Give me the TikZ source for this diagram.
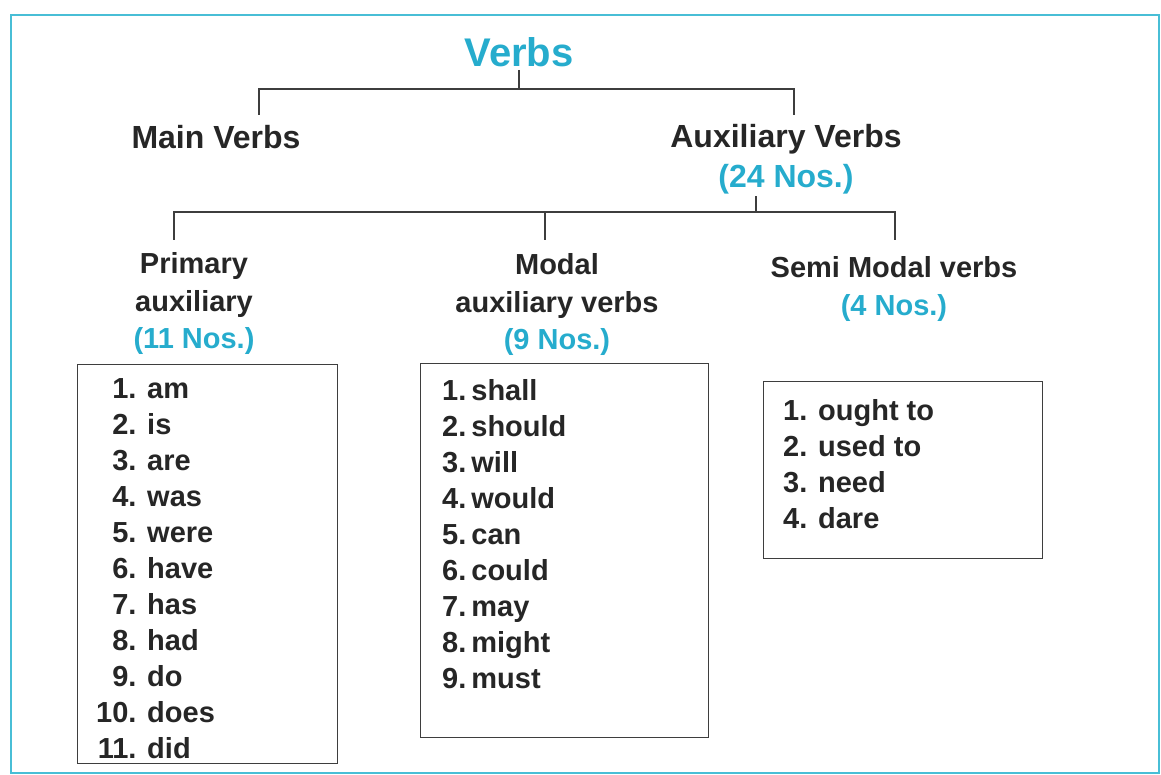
\documentclass[tikz,border=0pt]{standalone}
\usepackage{fontspec}
\setmainfont{Liberation Sans}
\usepackage{xcolor}
\definecolor{verbcyan}{RGB}{38,172,205}
\definecolor{framecyan}{RGB}{72,190,214}
\definecolor{linegray}{RGB}{62,62,62}
\tikzset{
    head-title/.style = {text=verbcyan, font=\fontsize{40}{44}\selectfont\bfseries, inner sep=3pt},
    head-big/.style = {text=black!85, font=\fontsize{32}{40}\selectfont\bfseries, align=center, inner sep=2pt},
    head-small/.style = {text=black!85, font=\fontsize{29}{37.5}\selectfont\bfseries, align=center, inner sep=2pt},
    list-box/.style = {draw=linegray, line width=1.4pt, rectangle, inner sep=0pt, anchor=north west},
    list-text/.style = {text=black!85, font=\fontsize{29}{36}\selectfont\bfseries, inner sep=0pt, anchor=base west},
    branch/.style = {draw=linegray, line width=1.5pt},
}
\newcommand{\nos}[1]{\textcolor{verbcyan}{(#1 Nos.)}}

\begin{document}
\begin{tikzpicture}[x=1pt, y=-1pt]
\useasboundingbox (0,0) rectangle (1161,775);
\draw[framecyan, line width=2.5pt] (11,15) rectangle (1159,773);

% headings
\node[head-title] (verbs) at (519,52) {Verbs};
\node[head-big] (mainverbs) at (216,137) {Main Verbs};
\node[head-big] (auxverbs) at (786,159) {Auxiliary Verbs\\\nos{24}};
\node[head-small] (primary) at (194,304) {Primary\\auxiliary\\\nos{11}};
\node[head-small] (modal) at (557,305) {Modal\\auxiliary verbs\\\nos{9}};
\node[head-small] (semimodal) at (894,289) {Semi Modal verbs\\\nos{4}};

% tree lines
\coordinate (vsplit) at (519,89);
\coordinate (mainj) at (259,115);
\coordinate (auxj) at (794,115);
\draw[branch] (verbs.south) -- (vsplit);
\draw[branch] (mainj) |- (vsplit) -| (auxj);

\coordinate (asplit) at (756,212);
\coordinate (primj) at (174,240);
\coordinate (modj) at (545,240);
\coordinate (semij) at (895,240);
\draw[branch] (auxverbs.south -| asplit) -- (asplit);
\draw[branch] (primj) |- (asplit) -| (semij);
\draw[branch] (modj) -- (modj |- asplit);

% boxes
\node[list-box, minimum width=260pt, minimum height=399pt] (primbox) at (77,364) {};
\node[list-box, minimum width=288pt, minimum height=374pt] (modbox) at (420,363) {};
\node[list-box, minimum width=279pt, minimum height=177pt] (semibox) at (763,381) {};

\node[list-text] (primlist) at (96,398) {\begin{tabular}[t]{@{}r@{ }l@{}}
1. & am\\ 2. & is\\ 3. & are\\ 4. & was\\ 5. & were\\ 6. & have\\
7. & has\\ 8. & had\\ 9. & do\\ 10. & does\\ 11. & did
\end{tabular}};
\node[list-text] (modlist) at (442,400) {\begin{tabular}[t]{@{}r@{\hspace{5pt}}l@{}}
1. & shall\\ 2. & should\\ 3. & will\\ 4. & would\\ 5. & can\\
6. & could\\ 7. & may\\ 8. & might\\ 9. & must
\end{tabular}};
\node[list-text] (semilist) at (783,420) {\begin{tabular}[t]{@{}r@{ }l@{}}
1. & ought to\\ 2. & used to\\ 3. & need\\ 4. & dare
\end{tabular}};
\end{tikzpicture}
\end{document}
